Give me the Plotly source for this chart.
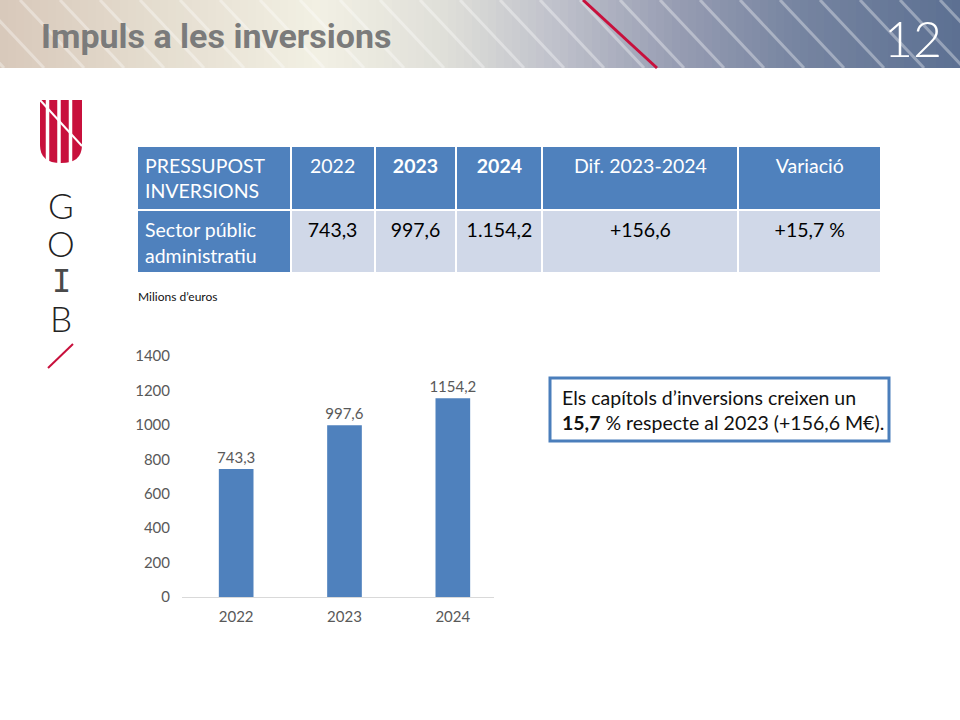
import plotly.graph_objects as go

# ---------------- data ----------------
years = ["2022", "2023", "2024"]
inversions = [743.3, 997.6, 1154.2]
y_ticks = [0, 200, 400, 600, 800, 1000, 1200, 1400]

table_header = ["<span>PRESSUPOST<br>INVERSIONS</span>", "<span>2022</span>", "<b>2023</b>", "<b>2024</b>",
                "<span>Dif. 2023-2024</span>", "<span>Variació</span>"]
table_row = ["<span>Sector públic<br>administratiu</span>", "<span>743,3</span>", "<span>997,6</span>",
             "<span>1.154,2</span>", "<span>+156,6</span>", "<span>+15,7 %</span>"]

title_text = "Impuls a les inversions"
page_number = "12"
unit_label = "Milions d’euros"
box_text = "Els capítols d’inversions creixen un<br><b>15,7</b> % respecte al 2023 (+156,6 M€)."

W, H = 960, 720
def px(x): return x / W
def py(y): return 1 - y / H

BLUE = "#4f81bd"
LIGHT = "#d0d8e8"
RED = "#c8103c"
FONT = "Lato"

fig = go.Figure()

# ---- bar chart ----
fig.add_trace(go.Bar(
    x=years, y=inversions,
    marker=dict(color=BLUE, line=dict(width=0)),
    width=0.32,
    texttemplate="%{y:.1f}", textposition="outside", constraintext="none",
    textfont=dict(family=FONT, size=15, color="#595959"),
    cliponaxis=False, hoverinfo="skip",
))

# ---- table ----
fig.add_trace(go.Table(
    domain=dict(x=[px(137), px(881)], y=[py(272), py(146)]),
    columnwidth=[152, 83, 81, 85, 194, 141],
    header=dict(
        values=table_header,
        fill_color=BLUE,
        line=dict(color="white", width=2),
        align=["left", "center", "center", "center", "center", "center"],
        font=dict(family=FONT, size=19.5, color="white"),
        height=58,
    ),
    cells=dict(
        values=[[v] for v in table_row],
        fill_color=[[BLUE], [LIGHT], [LIGHT], [LIGHT], [LIGHT], [LIGHT]],
        line=dict(color="white", width=2),
        align=["left", "center", "center", "center", "center", "center"],
        font=dict(family=FONT, size=19.5, color=[["white"], ["black"], ["black"], ["black"], ["black"], ["black"]]),
        height=56,
    ),
))

shapes = []
annotations = []

# ---- header background gradient ----
stops = [(0, (216, 200, 186)), (150, (228, 220, 206)), (320, (242, 240, 228)),
         (450, (222, 222, 216)), (560, (190, 192, 202)), (680, (150, 156, 178)),
         (800, (118, 132, 160)), (960, (92, 112, 146))]
def col_at(x):
    for (x0, c0), (x1, c1) in zip(stops[:-1], stops[1:]):
        if x0 <= x <= x1:
            t = (x - x0) / (x1 - x0)
            return "rgb(%d,%d,%d)" % tuple(round(a + (b - a) * t) for a, b in zip(c0, c1))
    return "rgb(%d,%d,%d)" % stops[-1][1]
step = 8
for x in range(0, W, step):
    shapes.append(dict(type="rect", xref="paper", yref="paper",
                       x0=px(x), x1=px(x + step + 0.5), y0=py(68), y1=py(0),
                       fillcolor=col_at(x + step / 2), line=dict(width=0), layer="below"))
for x in range(-60, W + 20, 40):
    shapes.append(dict(type="line", xref="paper", yref="paper",
                       x0=px(x), y0=py(0), x1=px(x + 64), y1=py(68),
                       line=dict(color="rgba(255,255,255,0.35)", width=3), layer="below"))
shapes.append(dict(type="line", xref="paper", yref="paper",
                   x0=px(583), y0=py(0), x1=px(657), y1=py(68),
                   line=dict(color=RED, width=3), layer="below"))

annotations.append(dict(text="<b>" + title_text + "</b>", xref="paper", yref="paper",
                        x=px(39), y=py(36), xanchor="left", yanchor="middle", showarrow=False,
                        font=dict(family="Roboto", size=34, color="#7b7b7b")))
annotations.append(dict(text=page_number, xref="paper", yref="paper",
                        x=px(913), y=py(38), xanchor="center", yanchor="middle", showarrow=False,
                        font=dict(family="Lato", size=50, color="white", weight=300)))

# ---- logo ----
shield = ("M {a},{b} L {c},{b} L {c},{d} Q {c},{e} {m},{e} Q {a},{e} {a},{d} Z").format(
    a=px(40), b=py(100), c=px(82), d=py(145), e=py(163), m=px(61))
shapes.append(dict(type="path", xref="paper", yref="paper", path=shield,
                   fillcolor=RED, line=dict(width=0)))
for gx in [47.5, 59, 70.5]:
    shapes.append(dict(type="line", xref="paper", yref="paper",
                       x0=px(gx), x1=px(gx), y0=py(99), y1=py(165),
                       line=dict(color="white", width=3.5)))
shapes.append(dict(type="line", xref="paper", yref="paper",
                   x0=px(40), y0=py(100), x1=px(82), y1=py(146),
                   line=dict(color="white", width=2)))
for letter, ly, fam in zip(["G", "O", "I", "B"], [205, 243, 281, 318],
                           ["Lato", "Lato", "DejaVu Sans Mono", "Lato"]):
    annotations.append(dict(text=letter, xref="paper", yref="paper", x=px(61), y=py(ly),
                            xanchor="center", yanchor="middle", showarrow=False,
                            font=dict(family=fam, size=35 if fam == "Lato" else 32,
                                      color="#222222" if fam == "Lato" else "#4a4a4a",
                                      weight=300 if fam == "Lato" else 400)))
shapes.append(dict(type="line", xref="paper", yref="paper",
                   x0=px(48), y0=py(368), x1=px(73), y1=py(344),
                   line=dict(color=RED, width=2)))

# ---- unit label ----
annotations.append(dict(text=unit_label, xref="paper", yref="paper", x=px(136), y=py(296),
                        xanchor="left", yanchor="middle", showarrow=False,
                        font=dict(family=FONT, size=12, color="#111111")))

# ---- text box ----
shapes.append(dict(type="rect", xref="paper", yref="paper",
                   x0=px(550), x1=px(889), y0=py(441), y1=py(378),
                   fillcolor="white", line=dict(color="#4a7ebb", width=3)))
annotations.append(dict(text=box_text, xref="paper", yref="paper", x=px(560), y=py(410),
                        xanchor="left", yanchor="middle", align="left", showarrow=False,
                        font=dict(family=FONT, size=19.5, color="#111111")))

fig.update_layout(
    width=W, height=H,
    margin=dict(l=0, r=0, t=0, b=0, pad=0, autoexpand=False),
    paper_bgcolor="white", plot_bgcolor="rgba(0,0,0,0)",
    showlegend=False,
    separators=",.",
    shapes=shapes, annotations=annotations,
    xaxis=dict(domain=[px(182), px(494)], range=[-0.5, 2.38], type="category",
               showgrid=False, showline=True, linecolor="#d9d9d9", linewidth=1,
               ticks="", ticklabelstandoff=6, automargin=False,
               tickfont=dict(family=FONT, size=15, color="#595959"),
               anchor="y", fixedrange=True),
    yaxis=dict(domain=[py(597), py(356)], range=[0, 1400], tickvals=y_ticks,
               showgrid=False, zeroline=False, showline=False, ticks="",
               ticklabelstandoff=11, automargin=False,
               tickfont=dict(family=FONT, size=15, color="#595959"),
               anchor="x", fixedrange=True),
)

fig.write_html("out.html")
